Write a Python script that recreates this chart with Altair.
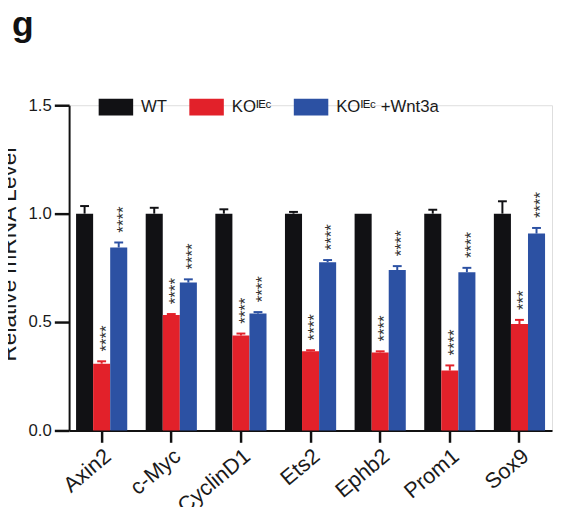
import altair as alt
import pandas as pd

genes = ["Axin2", "c-Myc", "CyclinD1", "Ets2", "Ephb2", "Prom1", "Sox9"]
groups = ["WT", "KOᴵᴱᶜ", "KOᴵᴱᶜ +Wnt3a"]
colors = ["#111114", "#e2212a", "#2c51a3"]

wt = [1.0, 1.0, 1.0, 1.0, 1.0, 1.0, 1.0]
wt_err = [0.035, 0.027, 0.020, 0.008, 0.0, 0.018, 0.057]
ko = [0.308, 0.532, 0.438, 0.365, 0.360, 0.276, 0.491]
ko_err = [0.011, 0.005, 0.009, 0.005, 0.005, 0.024, 0.019]
wnt = [0.844, 0.682, 0.539, 0.776, 0.740, 0.730, 0.908]
wnt_err = [0.023, 0.015, 0.007, 0.010, 0.018, 0.020, 0.026]
ko_sig = ["****", "****", "****", "****", "****", "****", "***"]
wnt_sig = ["****", "****", "****", "****", "****", "****", "****"]
wt_sig = ["", "", "", "", "", "", ""]

rows = []
for g, vals, errs, sigs in [
    (groups[0], wt, wt_err, wt_sig),
    (groups[1], ko, ko_err, ko_sig),
    (groups[2], wnt, wnt_err, wnt_sig),
]:
    for gene, v, e, s in zip(genes, vals, errs, sigs):
        rows.append({"gene": gene, "group": g, "value": v, "err": e,
                     "top": v + e, "sig": s})
df = pd.DataFrame(rows)

FONT = "Liberation Sans"

x = alt.X("gene:N", sort=genes, title=None,
          scale=alt.Scale(paddingInner=0.265, paddingOuter=0.1),
          axis=alt.Axis(labelAngle=-40, labelFontSize=22, labelFont=FONT,
                        labelColor="#1a1a1a", labelAlign="right",
                        labelBaseline="top", labelPadding=3,
                        tickSize=12, tickWidth=2.5, tickColor="#111",
                        domainColor="#111", domainWidth=2))
xo = alt.XOffset("group:N", sort=groups,
                 scale=alt.Scale(paddingInner=0, paddingOuter=0))
yscale = alt.Scale(domain=[0, 1.5], nice=False)
y = alt.Y("value:Q", scale=yscale, title="Relative mRNA Level",
          axis=alt.Axis(values=[0, 0.5, 1.0, 1.5], format=".1f",
                        labelFontSize=17, labelFont=FONT, labelColor="#1a1a1a",
                        labelPadding=3, tickSize=15, tickWidth=2.5,
                        tickColor="#111", domainColor="#111", domainWidth=2,
                        grid=False, titleFont=FONT, titleFontSize=23,
                        titleFontWeight="normal", titleColor="#1a1a1a",
                        titleAngle=270, titleX=-54, titleY=151,
                        titleAlign="center", titleBaseline="alphabetic"))

color_scale = alt.Scale(domain=groups, range=colors)

bars = alt.Chart(df).mark_bar(opacity=1).encode(
    x=x, xOffset=xo, y=y,
    color=alt.Color("group:N", scale=color_scale, sort=groups, title=None,
                    legend=alt.Legend(
                        orient="none", legendX=30, legendY=-16,
                        direction="horizontal", title=None,
                        symbolType="M-1,-0.49L1,-0.49L1,0.49L-1,0.49Z",
                        symbolSize=1225, symbolStrokeWidth=0,
                        symbolOpacity=1, labelFontSize=17, labelFont=FONT,
                        labelColor="#1a1a1a", labelOffset=8,
                        columnPadding=22, padding=0)),
)

errdf = df[df["err"] > 0]
rules = alt.Chart(errdf).mark_rule(strokeWidth=2).encode(
    x=x, xOffset=xo, y=alt.Y("value:Q", scale=yscale), y2="top:Q",
    color=alt.Color("group:N", scale=color_scale, legend=None),
)
caps = alt.Chart(errdf).mark_tick(size=9, thickness=2, opacity=1).encode(
    x=x, xOffset=xo, y=alt.Y("top:Q", scale=yscale),
    color=alt.Color("group:N", scale=color_scale, legend=None),
)
stars = alt.Chart(df[df["sig"] != ""]).mark_text(
    angle=270, align="left", baseline="alphabetic", dx=10, dy=10,
    fontSize=17, font=FONT, color="#333333",
).encode(x=x, xOffset=xo, y=alt.Y("top:Q", scale=yscale), text="sig:N")

chart = alt.layer(bars, rules, caps, stars).properties(
    width=490, height=330,
    padding={"left": 62, "top": 95, "right": 1, "bottom": 74},
    autosize="none",
    title=alt.TitleParams("g", anchor="start", frame="group", dx=-58,
                          fontSize=36, fontWeight="bold", font=FONT,
                          color="#111", baseline="alphabetic", offset=18),
).configure_view(stroke=None).configure(background="white")

chart.save("out.html", embed_options={"renderer": "svg", "actions": False})
